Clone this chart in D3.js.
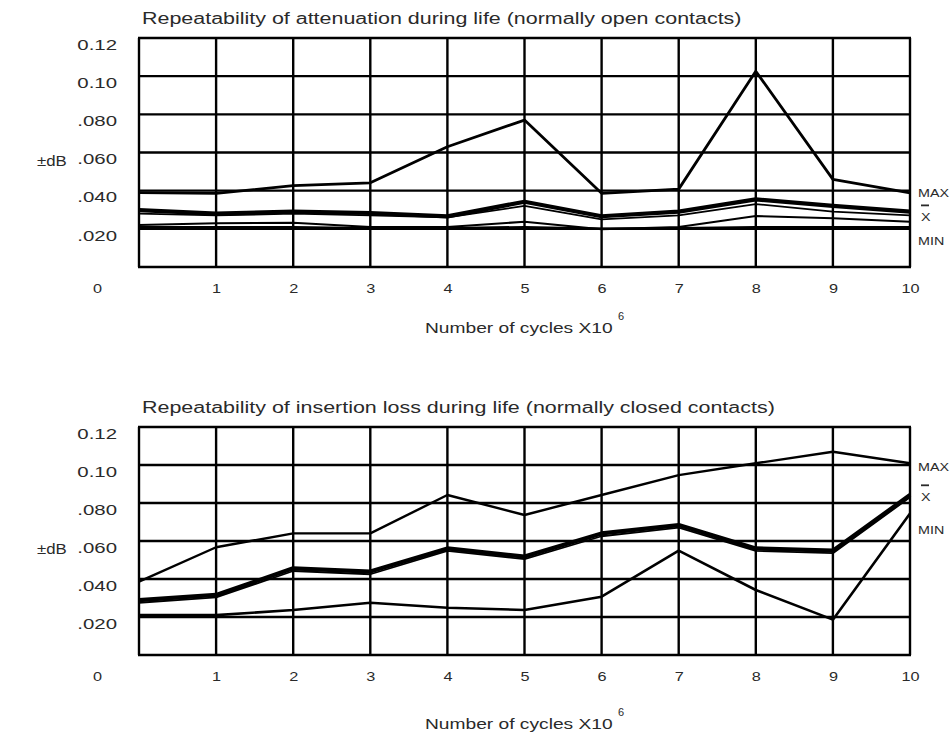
<!DOCTYPE html>
<html>
<head>
<meta charset="utf-8">
<script src="https://cdn.jsdelivr.net/npm/d3@7"></script>
<style>
  html, body { margin: 0; padding: 0; background: #fff; }
  svg { display: block; }
  text { font-family: "Liberation Sans", Arial, sans-serif; fill: #2a2a2a; }
</style>
</head>
<body>
<svg id="chart" width="950" height="738"></svg>
<script>
// ---------- data ----------
const cycles = [0, 1, 2, 3, 4, 5, 6, 7, 8, 9, 10];
const xTickLabels = ["0", "1", "2", "3", "4", "5", "6", "7", "8", "9", "10"];
const yTickValues = [0.02, 0.04, 0.06, 0.08, 0.10, 0.12];
const yTickLabels = [".020", ".040", ".060", ".080", "0.10", "0.12"];

const openTitle = "Repeatability of attenuation during life (normally open contacts)";
const openMax   = [0.039, 0.0386, 0.0426, 0.0441, 0.063, 0.077, 0.0386, 0.0408, 0.1026, 0.0459, 0.0389];
const openMean  = [0.0298, 0.028, 0.029, 0.0283, 0.0265, 0.0342, 0.0266, 0.029, 0.0354, 0.032, 0.029];
const openMean2 = [0.028, 0.027, 0.028, 0.027, 0.026, 0.032, 0.025, 0.027, 0.033, 0.029, 0.027];
const openLow   = [0.022, 0.0229, 0.0232, 0.021, 0.021, 0.0237, 0.0198, 0.021, 0.0267, 0.0255, 0.0237];
const openMin   = [0.021, 0.021, 0.021, 0.0205, 0.0205, 0.021, 0.0202, 0.0205, 0.021, 0.021, 0.021];

const closedTitle = "Repeatability of insertion loss during life (normally closed contacts)";
const closedMax   = [0.0386, 0.0567, 0.064, 0.064, 0.0842, 0.0737, 0.0842, 0.0947, 0.1009, 0.107, 0.1009];
const closedMean  = [0.0289, 0.0316, 0.0456, 0.0439, 0.0561, 0.0518, 0.064, 0.0684, 0.0561, 0.0549, 0.0842];
const closedMean2 = [0.0275, 0.0303, 0.0442, 0.0425, 0.0548, 0.0505, 0.0625, 0.067, 0.0548, 0.0536, 0.083];
const closedMin   = [0.021, 0.021, 0.0237, 0.0275, 0.0249, 0.0237, 0.0307, 0.0549, 0.0342, 0.0186, 0.0745];

const sideLabels = ["MAX", "X", "MIN"];
const axisTitle = "Number of cycles X10";
const axisTitleSup = "6";
const yAxisTitle = "±dB";

// ---------- layout ----------
const svg = d3.select("#chart");
const plotLeft = 139, plotRight = 910;

function stretch(sel, k) {
  sel.each(function () {
    const w = this.getComputedTextLength();
    d3.select(this).attr("textLength", w * k).attr("lengthAdjust", "spacingAndGlyphs");
  });
}

function panel(cfg) {
  const g = svg.append("g");
  const x = d3.scaleLinear().domain([0, 10]).range([plotLeft, plotRight]);
  const y = d3.scaleLinear().domain([0, 0.12]).range([cfg.bottom, cfg.top]);

  // title
  g.append("text")
    .attr("x", plotLeft + 3).attr("y", cfg.top - 14)
    .attr("font-size", 16)
    .text(cfg.title)
    .call(stretch, 1.34);

  // grid
  g.append("g").selectAll("line").data(cycles).join("line")
    .attr("x1", d => x(d)).attr("x2", d => x(d))
    .attr("y1", y(0)).attr("y2", y(0.12))
    .attr("stroke", "#000").attr("stroke-width", 2.4);
  g.append("g").selectAll("line").data([0].concat(yTickValues)).join("line")
    .attr("x1", x(0) - 1).attr("x2", x(10) + 1)
    .attr("y1", d => y(d)).attr("y2", d => y(d))
    .attr("stroke", "#000").attr("stroke-width", 2.4);

  // x axis
  const xa = g.append("g")
    .attr("transform", `translate(0,${cfg.bottom})`)
    .call(d3.axisBottom(x).tickValues(cycles).tickSize(0).tickPadding(17)
      .tickFormat((d, i) => xTickLabels[i]));
  xa.select(".domain").remove();
  xa.selectAll("text").attr("font-size", 13).attr("fill", "#2a2a2a")
    .attr("font-family", '"Liberation Sans", Arial, sans-serif')
    .attr("x", d => d === 0 ? -42 : 0)
    .call(stretch, 1.25);

  // y axis
  const ya = g.append("g")
    .attr("transform", `translate(${plotLeft},0)`)
    .call(d3.axisLeft(y).tickValues(yTickValues).tickSize(0).tickPadding(22)
      .tickFormat((d, i) => yTickLabels[i]));
  ya.select(".domain").remove();
  ya.selectAll("text").attr("font-size", 15).attr("fill", "#2a2a2a")
    .attr("font-family", '"Liberation Sans", Arial, sans-serif')
    .attr("dy", "0.75em")
    .call(stretch, 1.36);

  // y axis title
  g.append("text")
    .attr("x", 37).attr("y", y(0.06) + 13)
    .attr("font-size", 14)
    .text(yAxisTitle)
    .call(stretch, 1.2);

  // x axis title
  const at = g.append("text")
    .attr("x", 425).attr("y", cfg.bottom + cfg.axisTitleDy)
    .attr("font-size", 14)
    .text(axisTitle)
    .call(stretch, 1.37);
  const bb = at.node().getBBox();
  g.append("text")
    .attr("x", bb.x + bb.width + 5).attr("y", cfg.bottom + cfg.axisTitleDy - 13)
    .attr("font-size", 11)
    .text(axisTitleSup);

  // series
  const line = d3.line().x((d, i) => x(cycles[i])).y(d => y(d));
  cfg.series.forEach(s => {
    g.append("path").datum(s.values)
      .attr("d", line)
      .attr("fill", "none")
      .attr("stroke", "#000")
      .attr("stroke-width", s.width)
      .attr("stroke-linejoin", "round");
  });

  // side labels
  const lx = plotRight + 8;
  g.append("text").attr("x", lx).attr("y", y(cfg.labelAt[0]) + 4)
    .attr("font-size", 11).text(sideLabels[0]).call(stretch, 1.3);
  g.append("line")
    .attr("x1", lx + 3).attr("x2", lx + 11)
    .attr("y1", y(cfg.labelAt[1]) - 12).attr("y2", y(cfg.labelAt[1]) - 12)
    .attr("stroke", "#2a2a2a").attr("stroke-width", 1.8);
  g.append("text").attr("x", lx + 3).attr("y", y(cfg.labelAt[1]) + 4)
    .attr("font-size", 11).text(sideLabels[1]).call(stretch, 1.3);
  g.append("text").attr("x", lx).attr("y", y(cfg.labelAt[2]) + 4)
    .attr("font-size", 11).text(sideLabels[2]).call(stretch, 1.3);
}

panel({
  top: 38, bottom: 267, title: openTitle, axisTitleDy: 66,
  labelAt: [0.039, 0.026, 0.0135],
  series: [
    { values: openMin, width: 2 },
    { values: openLow, width: 2 },
    { values: openMean2, width: 1.8 },
    { values: openMean, width: 4.2 },
    { values: openMax, width: 2.8 }
  ]
});

panel({
  top: 427, bottom: 655, title: closedTitle, axisTitleDy: 74,
  labelAt: [0.099, 0.083, 0.066],
  series: [
    { values: closedMin, width: 2.6 },
    { values: closedMean2, width: 1.8 },
    { values: closedMean, width: 4.2 },
    { values: closedMax, width: 2.4 }
  ]
});
</script>
</body>
</html>
